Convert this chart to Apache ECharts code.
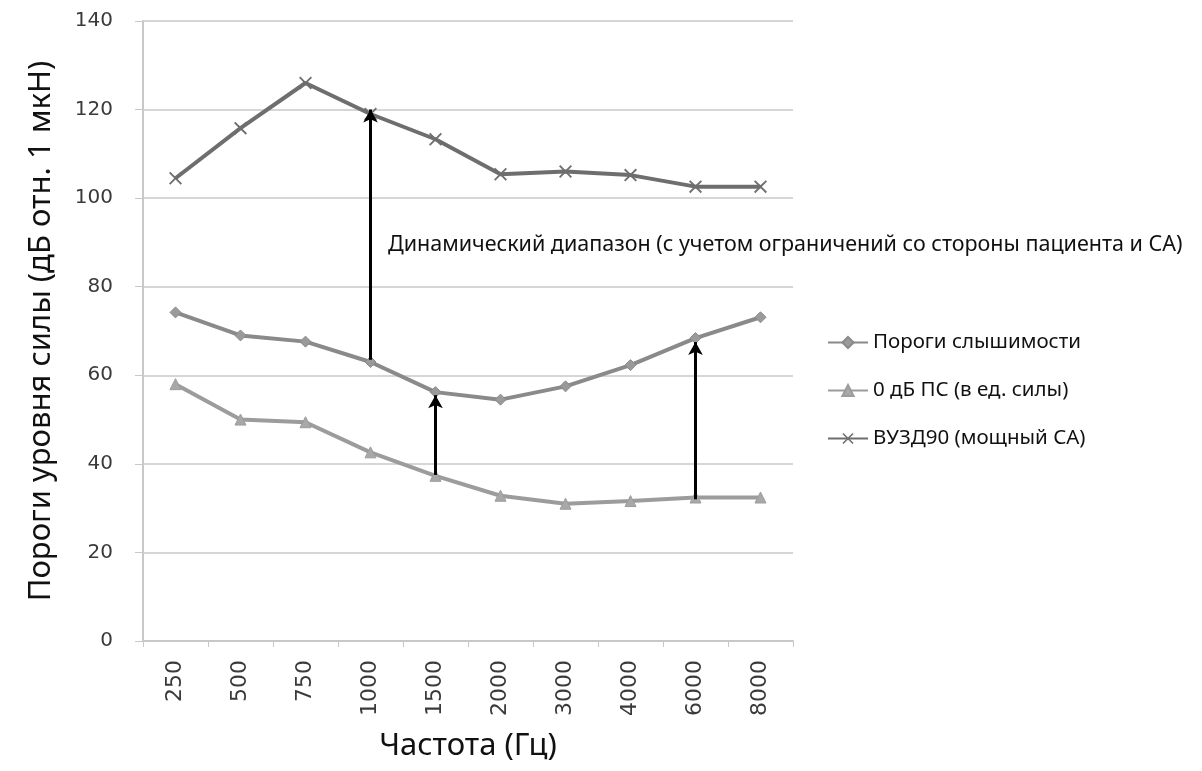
<!DOCTYPE html>
<html lang="ru">
<head>
    <meta charset="UTF-8">
    <title>Динамический диапазон</title>
    <script src="https://cdn.jsdelivr.net/npm/echarts@6/dist/echarts.min.js"></script>
    <style>
        html, body { margin: 0; padding: 0; background: #fff; }
        #main { width: 1202px; height: 771px; }
    </style>
</head>
<body>
<div id="main"></div>
<script>
    // данные
    var freqs = ['250', '500', '750', '1000', '1500', '2000', '3000', '4000', '6000', '8000'];
    var thresholds = [74.2, 69, 67.6, 63, 56.2, 54.5, 57.5, 62.3, 68.4, 73.1];   // Пороги слышимости
    var zeroDb = [58, 50, 49.4, 42.6, 37.3, 32.8, 31, 31.6, 32.4, 32.4];         // 0 дБ ПС
    var vuzd90 = [104.5, 115.8, 126, 119, 113.3, 105.4, 106, 105.2, 102.6, 102.6]; // ВУЗД90
    var yTicks = [0, 20, 40, 60, 80, 100, 120, 140];
    // стрелки: частота, откуда, куда
    var arrowCats = ['1000', '1500', '6000'];
    var arrowFrom = [63.5, 37.5, 32];
    var arrowTo = [120, 55.5, 67.5];

    var seriesNames = ['Пороги слышимости', '0 дБ ПС (в ед. силы)', 'ВУЗД90 (мощный СА)'];
    var crossPath = 'path://M0,1L1,0L5,4L9,0L10,1L6,5L10,9L9,10L5,6L1,10L0,9L4,5Z';

    var arrowLines = [];
    for (var i = 0; i < arrowCats.length; i++) {
        arrowLines.push([
            { coord: [arrowCats[i], arrowFrom[i]] },
            { coord: [arrowCats[i], arrowTo[i]] }
        ]);
    }

    var myChart = echarts.init(document.getElementById('main'));

    var option = {
        animation: false,
        grid: { left: 143, right: 409, top: 21, bottom: 130 },
        legend: {
            orient: 'vertical',
            left: 822,
            top: 327,
            itemGap: 27,
            itemWidth: 40,
            itemHeight: 14,
            data: seriesNames,
            textStyle: { fontFamily: 'Noto Sans', fontSize: 20.5, color: '#111' }
        },
        graphic: [{
            type: 'text',
            left: 388,
            top: 234,
            style: {
                text: 'Динамический диапазон (с учетом ограничений со стороны пациента и СА)',
                font: '21.5px "Noto Sans"',
                fill: '#111'
            }
        }],
        xAxis: {
            type: 'category',
            data: freqs,
            name: 'Частота (Гц)',
            nameLocation: 'middle',
            nameGap: 90,
            nameTextStyle: { fontFamily: 'Noto Sans', fontSize: 31, color: '#111' },
            axisLine: { lineStyle: { color: '#c8c8c8', width: 2 } },
            axisTick: { show: true, length: 6, lineStyle: { color: '#c8c8c8' } },
            axisLabel: {
                rotate: 90,
                margin: 19,
                fontFamily: 'DejaVu Sans',
                fontSize: 22,
                color: '#3a3a3a'
            }
        },
        yAxis: {
            type: 'value',
            min: yTicks[0],
            max: yTicks[yTicks.length - 1],
            interval: 20,
            name: 'Пороги уровня силы (дБ отн. 1 мкН)',
            nameLocation: 'middle',
            nameGap: 86,
            nameTextStyle: { fontFamily: 'Noto Sans', fontSize: 31, color: '#111' },
            axisLine: { show: true, lineStyle: { color: '#c8c8c8', width: 2 } },
            axisTick: { show: true, length: 8, lineStyle: { color: '#c8c8c8' } },
            splitLine: { lineStyle: { color: '#d6d6d6', width: 2 } },
            axisLabel: {
                margin: 30,
                fontFamily: 'DejaVu Sans',
                fontSize: 20,
                color: '#3a3a3a'
            }
        },
        series: [{
            name: seriesNames[0],
            type: 'line',
            data: thresholds,
            symbol: 'diamond',
            symbolSize: 11,
            lineStyle: { color: '#8a8a8a', width: 4 },
            itemStyle: { color: '#9a9a9a', borderColor: '#8a8a8a', borderWidth: 1 },
            z: 3,
            markLine: {
                silent: true,
                symbol: ['none', 'arrow'],
                symbolSize: [11, 13],
                label: { show: false },
                lineStyle: { color: '#000', width: 3, type: 'solid' },
                data: arrowLines
            }
        }, {
            name: seriesNames[1],
            type: 'line',
            data: zeroDb,
            symbol: 'triangle',
            symbolSize: 11,
            lineStyle: { color: '#9c9c9c', width: 4 },
            itemStyle: { color: '#a8a8a8', borderColor: '#9c9c9c', borderWidth: 1 },
            z: 2
        }, {
            name: seriesNames[2],
            type: 'line',
            data: vuzd90,
            symbol: crossPath,
            symbolSize: 13,
            lineStyle: { color: '#6e6e6e', width: 4 },
            itemStyle: { color: '#6e6e6e' },
            z: 2
        }]
    };

    myChart.setOption(option);
</script>
</body>
</html>
